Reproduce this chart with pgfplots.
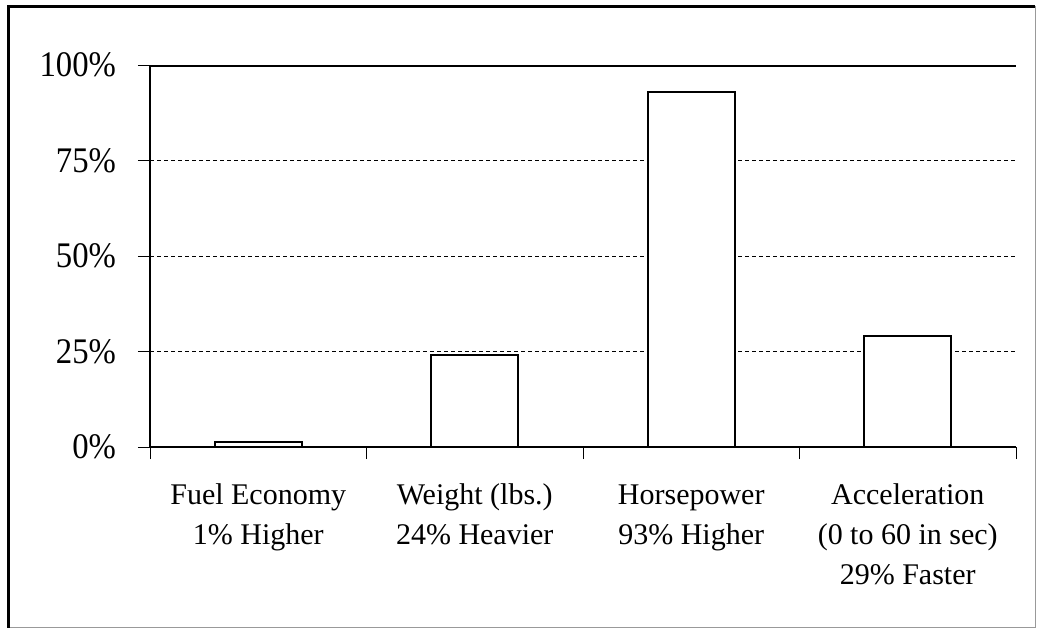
\documentclass[border=0pt]{standalone}
\usepackage{pgfplots}
\pgfplotsset{compat=1.18}
\usepackage{fontspec}
\setmainfont{Liberation Serif}
\newfontfamily\yfont{Liberation Serif}[FakeStretch=0.91]
\newcommand{\fl}{\vphantom{(Hl}}
\begin{document}
\begin{tikzpicture}[x=1pt,y=1pt]
\path[use as bounding box] (0,0) rectangle (518.5,314.5);
\draw[black!40, line width=0.6pt] (517.6,311.5) -- (517.6,0.6) -- (4.25,0.6);
\draw[black, line width=1.5pt] (4.25,0.6) -- (4.25,311.5) -- (517.6,311.5);
\begin{axis}[
  at={(75pt,91pt)}, anchor=south west,
  scale only axis, width=433pt, height=191pt,
  xmin=-0.5, xmax=3.5, ymin=0, ymax=100,
  axis x line*=bottom, axis y line*=left,
  axis line style={line width=1.3pt},
  ybar, bar width=43.5pt,
  xtick={-0.5,0.5,1.5,2.5,3.5},
  x tick label as interval,
  xticklabels={{\fl Fuel Economy\\1\% Higher},{\fl Weight (lbs.)\\24\% Heavier},{\fl Horsepower\\93\% Higher},{\fl Acceleration\\(0 to 60 in sec)\\29\% Faster}},
  xticklabel style={font=\fontsize{15}{20}\selectfont, align=center, anchor=north, yshift=-9pt},
  ytick={0,25,50,75,100},
  yticklabels={0\%,25\%,50\%,75\%,100\%},
  yticklabel style={font=\yfont\fontsize{18}{20}\selectfont, anchor=east, xshift=-7.5pt},
  tick align=outside, major tick length=6pt,
  tick style={black, line width=0.4pt},
  ymajorgrids, grid style={black, line width=0.4pt, dash pattern=on 2pt off 1.5pt},
]
\addplot[ybar, fill=white, draw=black, line width=1pt] coordinates {(0,1.3) (1,24) (2,93) (3,29)};
\draw[black, line width=1.5pt] (rel axis cs:0,1) -- (rel axis cs:1,1);
\end{axis}
\end{tikzpicture}
\end{document}
